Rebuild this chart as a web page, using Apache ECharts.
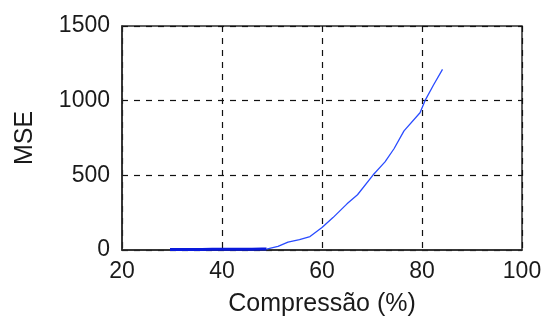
<!DOCTYPE html>
<html><head><meta charset="utf-8">
<script src="https://cdn.jsdelivr.net/npm/echarts@6/dist/echarts.min.js"></script>
<style>html,body{margin:0;padding:0;background:#fff}#c{width:545px;height:322px}</style>
</head><body><div id="c"></div>
<script>
const flatX = [29.6, 32, 34, 36, 38, 40, 42, 44, 46, 48, 48.9];
const flatY = [4, 4, 4, 4, 5, 5, 5, 5, 5, 6, 6];
const curveX = [48.9, 51.2, 53.2, 55.5, 57.6, 60, 62.2, 65, 67.1, 70.2, 72.6, 74.4, 76.4, 79.6, 80.6, 82.3, 84.1];
const curveY = [6, 24, 53, 70, 90, 151, 217, 309, 370, 502, 590, 678, 798, 919, 1000, 1105, 1210];
const xTicks = [20, 40, 60, 80, 100];
const yTicks = [0, 500, 1000, 1500];

const chart = echarts.init(document.getElementById('c'), null, {renderer: 'canvas'});
const font = 'Liberation Sans, Arial, sans-serif';
chart.setOption({
  animation: false,
  grid: {left: 122, right: 23, top: 26, bottom: 69, show: true, borderColor: '#2a2a2a', borderWidth: 1.5, backgroundColor: '#fff'},
  xAxis: {
    type: 'value', min: xTicks[0], max: xTicks[xTicks.length - 1], interval: 20,
    name: 'Compressão (%)', nameLocation: 'middle', nameGap: 42,
    nameTextStyle: {fontFamily: font, fontSize: 25, color: '#1a1a1a'},
    axisLine: {show: true, lineStyle: {color: '#2a2a2a', width: 1.5}},
    axisTick: {show: false},
    axisLabel: {fontFamily: font, fontSize: 23, color: '#1a1a1a', margin: 10, formatter: v => String(v)},
    splitLine: {show: true, lineStyle: {color: '#111', type: [6, 6], width: 1.2}}
  },
  yAxis: {
    type: 'value', min: yTicks[0], max: yTicks[yTicks.length - 1], interval: 500,
    name: 'MSE', nameLocation: 'middle', nameGap: 84, nameRotate: 90,
    nameTextStyle: {fontFamily: font, fontSize: 25, color: '#1a1a1a'},
    axisLine: {show: true, lineStyle: {color: '#2a2a2a', width: 1.5}},
    axisTick: {show: false},
    axisLabel: {fontFamily: font, fontSize: 23, color: '#1a1a1a', margin: 12, formatter: v => String(v)},
    splitLine: {show: true, lineStyle: {color: '#111', type: [6, 6], width: 1.2}}
  },
  series: [
    {type: 'line', data: flatX.map((x, i) => [x, flatY[i]]), symbol: 'none',
     lineStyle: {color: '#0a1adc', width: 3}, z: 3},
    {type: 'line', data: curveX.map((x, i) => [x, curveY[i]]), symbol: 'none',
     lineStyle: {color: '#2a4cff', width: 1.3}, z: 3}
  ]
});
</script></body></html>
